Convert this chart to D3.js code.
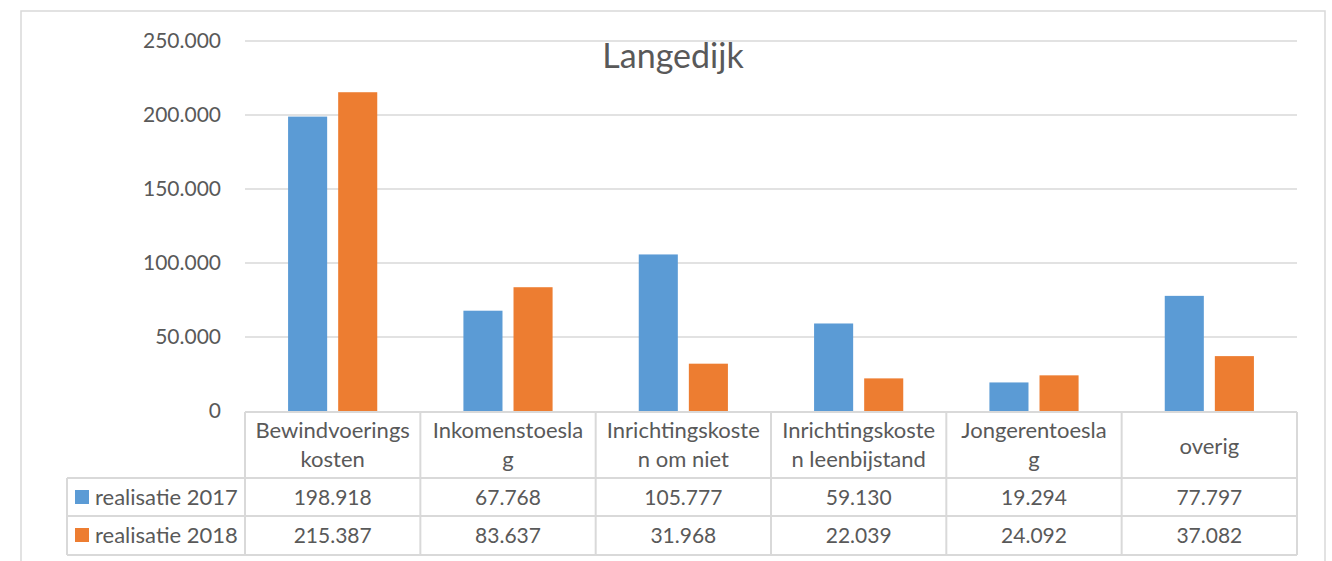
<!DOCTYPE html>
<html>
<head>
<meta charset="utf-8">
<script src="https://cdn.jsdelivr.net/npm/d3@7"></script>
<style>
  body { margin: 0; background: #fff; }
  svg text { font-family: Lato, "Open Sans", sans-serif; fill: #595959; }
</style>
</head>
<body>
<svg id="chart" width="1332" height="561"></svg>
<script>
const categories = ["Bewindvoeringskosten", "Inkomenstoeslag", "Inrichtingskosten om niet", "Inrichtingskosten leenbijstand", "Jongerentoeslag", "overig"];
const categoryLines = [["Bewindvoerings", "kosten"], ["Inkomenstoesla", "g"], ["Inrichtingskoste", "n om niet"], ["Inrichtingskoste", "n leenbijstand"], ["Jongerentoesla", "g"], ["overig"]];
const series = ["realisatie 2017", "realisatie 2018"];
const values2017 = [198918, 67768, 105777, 59130, 19294, 77797];
const values2018 = [215387, 83637, 31968, 22039, 24092, 37082];
const yTicks = [0, 50000, 100000, 150000, 200000, 250000];
const colors = ["#5b9bd5", "#ed7d31"];

const svg = d3.select("#chart");
const fmt = v => v === 0 ? "0" : d3.format(",")(v).replace(/,/g, ".");

const margin = { left: 245, right: 1297, top: 41, bottom: 411 };
const grid = "#d9d9d9";

// outer chart frame
svg.append("rect").attr("x", 21).attr("y", 11).attr("width", 1304).attr("height", 560)
  .attr("fill", "none").attr("stroke", grid).attr("stroke-width", 1.5);

const x0 = d3.scaleBand().domain(categories).range([margin.left, margin.right]);
const x1 = d3.scaleBand().domain(series).range([0, x0.bandwidth()]).paddingInner(0.22).paddingOuter(0.86);
const y = d3.scaleLinear().domain([0, 250000]).range([margin.bottom, margin.top]);

// gridlines
svg.append("g").selectAll("line").data(yTicks.slice(1)).join("line")
  .attr("x1", margin.left).attr("x2", margin.right)
  .attr("y1", d => y(d)).attr("y2", d => y(d))
  .attr("stroke", grid).attr("stroke-width", 1.5);

// y axis labels
const yAxis = svg.append("g").attr("transform", `translate(${margin.left},0)`)
  .call(d3.axisLeft(y).tickValues(yTicks).tickFormat(fmt).tickSize(0).tickPadding(24));
yAxis.select(".domain").remove();
yAxis.selectAll("text").style("font-size", "21px").attr("fill", "#595959")
  .style("font-family", "Lato, 'Open Sans', sans-serif");

// title
svg.append("text").attr("x", 673).attr("y", 68).attr("text-anchor", "middle")
  .style("font-size", "34px").text("Langedijk");

// bars
const rows = [values2017, values2018];
series.forEach((s, si) => {
  svg.append("g").selectAll("rect").data(categories).join("rect")
    .attr("x", (c) => x0(c) + x1(s))
    .attr("width", x1.bandwidth())
    .attr("y", (c, i) => y(rows[si][i]))
    .attr("height", (c, i) => y(0) - y(rows[si][i]))
    .attr("fill", colors[si]);
});

// data table
const tHead = 412, tRow1 = 478, tRow2 = 516, tEnd = 555, legendLeft = 67;
const tg = svg.append("g").attr("stroke", grid).attr("stroke-width", 2);
tg.append("line").attr("x1", margin.left).attr("x2", margin.right).attr("y1", tHead).attr("y2", tHead);
[tRow1, tRow2, tEnd].forEach(yy => tg.append("line").attr("x1", legendLeft).attr("x2", margin.right).attr("y1", yy).attr("y2", yy));
tg.append("line").attr("x1", legendLeft).attr("x2", legendLeft).attr("y1", tRow1).attr("y2", tEnd);
categories.concat([null]).forEach((c, i) => {
  const xx = c ? x0(c) : margin.right;
  tg.append("line").attr("x1", xx).attr("x2", xx).attr("y1", tHead).attr("y2", tEnd);
});

// header labels
categories.forEach((c, i) => {
  const lines = categoryLines[i];
  const cx = x0(c) + x0.bandwidth() / 2;
  const t = svg.append("text").attr("text-anchor", "middle").style("font-size", "22px");
  const start = lines.length === 1 ? 454 : 438;
  lines.forEach((l, li) => t.append("tspan").attr("x", cx).attr("y", start + li * 29).text(l));
});

// value rows + legend
[tRow1, tRow2].forEach((ry, si) => {
  svg.append("rect").attr("x", 75).attr("y", ry + 12).attr("width", 14).attr("height", 14).attr("fill", colors[si]);
  svg.append("text").attr("x", 95).attr("y", ry + 27).style("font-size", "22px").text(series[si]);
  categories.forEach((c, i) => {
    svg.append("text").attr("x", x0(c) + x0.bandwidth() / 2).attr("y", ry + 27)
      .attr("text-anchor", "middle").style("font-size", "21px").text(fmt(rows[si][i]));
  });
});
</script>
</body>
</html>
